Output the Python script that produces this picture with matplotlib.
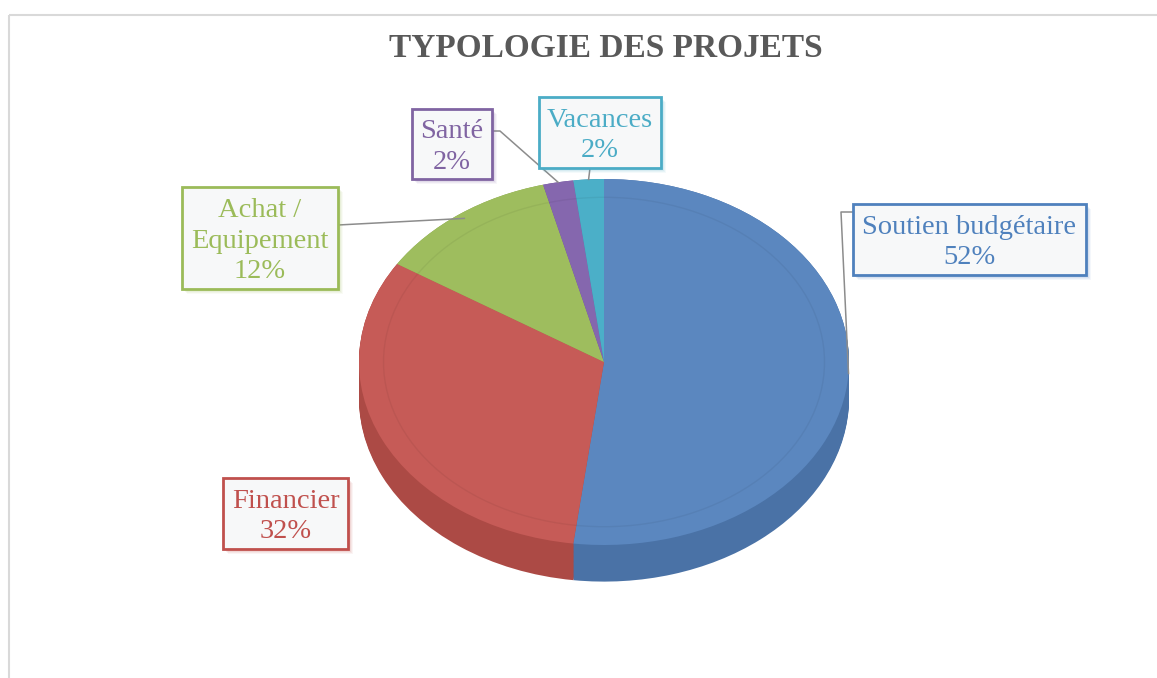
import matplotlib
matplotlib.use("Agg")
import matplotlib.pyplot as plt
from matplotlib.patches import Rectangle, Circle
import numpy as np

# chart data
categories = ["Soutien budgétaire", "Financier", "Achat /\nEquipement", "Santé", "Vacances"]
shares = [52, 32, 12, 2, 2]
pct_labels = ["52%", "32%", "12%", "2%", "2%"]
title = "TYPOLOGIE DES PROJETS"

# colours (top face, side wall, label text/border)
top_colors = ["#5B87BF", "#C65B57", "#9EBD5E", "#8567AE", "#4BAFC8"]
side_colors = ["#4A72A6", "#AC4A45", "#85A14C", "#6C5394", "#3C93AB"]
label_colors = ["#4F81BD", "#C0504D", "#9BBB59", "#8064A2", "#4BACC6"]

# layout in pixels (y downward)
W, H = 1157, 678
boxes = [(853, 204, 1086, 275), (223, 478, 348, 549), (182, 187, 338, 289),
         (412, 109, 492, 179), (539, 97, 661, 168)]
leader_starts = [[(853, 212), (841, 212)], None, [(338, 225)],
                 [(492, 131), (500, 131)], [(590, 168)]]
anchor_r = [1.0, 1.0, 0.97, 1.0, 1.0]


def main():
	fig = plt.figure(figsize=(W / 100, H / 100), dpi=100)
	fig.patch.set_facecolor("white")

	# pie axes: unequal aspect turns the pie into an ellipse
	cx, cy, a, b = 604, 362, 245, 183
	depth = 0.2
	xlim = (-1.05, 1.05)
	ylim = (-1.35, 1.05)
	left = (cx + xlim[0] * a) / W
	top_px = cy - ylim[1] * b
	bottom_px = cy - ylim[0] * b
	ax_pie = fig.add_axes([left, (H - bottom_px) / H, (xlim[1] - xlim[0]) * a / W, (bottom_px - top_px) / H])

	# side wall: stacked copies shifted downward
	n = 30
	for i in range(n):
		d = depth * (n - 1 - i) / (n - 1)
		ax_pie.pie(shares, colors=side_colors, startangle=90, counterclock=False,
				   center=(0, -d), wedgeprops=dict(linewidth=0))

	wedges, _ = ax_pie.pie(shares, colors=top_colors, startangle=90, counterclock=False,
						   wedgeprops=dict(linewidth=0))
	# faint bevel ring
	ax_pie.add_patch(Circle((0, 0), 0.9, fill=False, ec=(0, 0, 0, 0.05), lw=1))

	ax_pie.set_aspect("auto")
	ax_pie.set_xlim(*xlim)
	ax_pie.set_ylim(*ylim)
	ax_pie.axis("off")

	# overlay axes in pixel coordinates
	ax = fig.add_axes([0, 0, 1, 1])
	ax.set_xlim(0, W)
	ax.set_ylim(H, 0)
	ax.axis("off")
	ax.patch.set_alpha(0)

	# chart frame (cropped at right/bottom)
	ax.plot([8.5, W], [14.5, 14.5], color="#D9D9D9", lw=1.5, solid_capstyle="butt")
	ax.plot([8.5, 8.5], [14.5, H], color="#D9D9D9", lw=1.5, solid_capstyle="butt")

	ax.text(606, 57, title, ha="center", va="baseline", fontsize=24, fontweight="bold",
			color="#595959", family="Liberation Serif")

	for i, w in enumerate(wedges):
		# leader lines to the slice
		if leader_starts[i] is not None:
			mid = np.deg2rad((w.theta1 + w.theta2) / 2)
			px, py = ax_pie.transData.transform((anchor_r[i] * np.cos(mid), anchor_r[i] * np.sin(mid)))
			pts = leader_starts[i] + [(px, H - py)]
			ax.plot([p[0] for p in pts], [p[1] for p in pts], color="#8C8C8C", lw=1.1, zorder=2)

		x0, y0, x1, y1 = boxes[i]
		# soft shadow
		for k, al in [(5, 0.06), (4, 0.08), (3, 0.1)]:
			ax.add_patch(Rectangle((x0 + k, y0 + k), x1 - x0, y1 - y0, fc=label_colors[i],
								   alpha=al, lw=0, zorder=3))
		ax.add_patch(Rectangle((x0, y0), x1 - x0, y1 - y0, fc="#F7F8F9", ec=label_colors[i],
							   lw=2, zorder=4))
		ax.text((x0 + x1) / 2, (y0 + y1) / 2 + 3, f"{categories[i]}\n{pct_labels[i]}", ha="center",
				va="center", color=label_colors[i], fontsize=20.5, family="Liberation Serif",
				linespacing=1.3, zorder=5)

	fig.savefig("out.png", dpi=100)


if __name__ == "__main__":
	main()
